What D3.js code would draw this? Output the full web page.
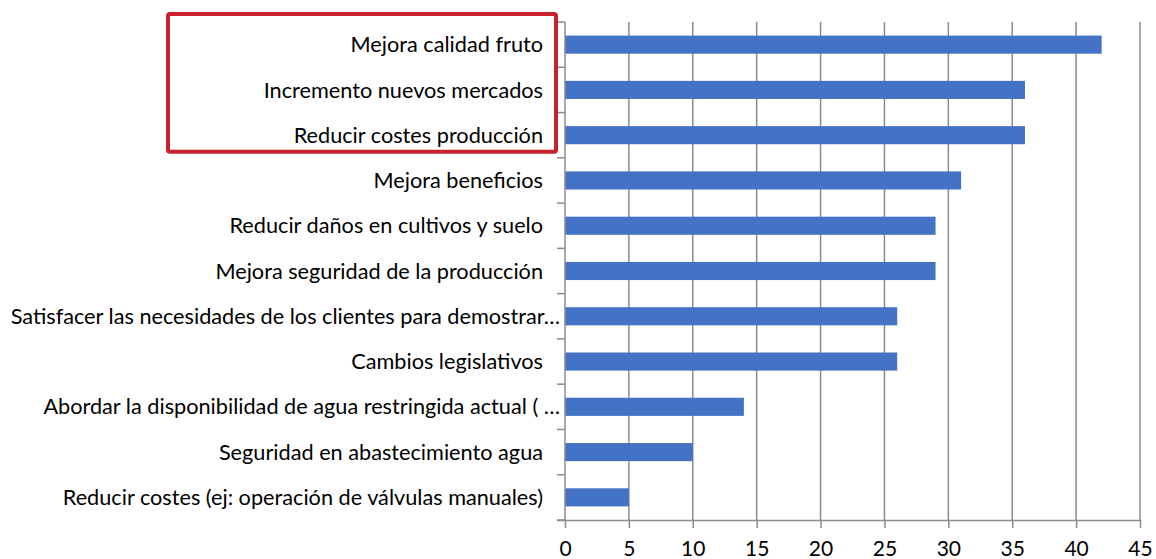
<!DOCTYPE html>
<html>
<head>
<meta charset="utf-8">
<script src="https://cdn.jsdelivr.net/npm/d3@7"></script>
<style>
  body { margin: 0; background: #fff; }
  svg { display: block; font-family: Lato, "Open Sans", sans-serif; }
</style>
</head>
<body>
<svg id="chart" width="1156" height="559"></svg>
<script>
// categorías (de arriba abajo)
const categories = [
    "Mejora calidad fruto",
    "Incremento nuevos mercados",
    "Reducir costes producción",
    "Mejora beneficios",
    "Reducir daños en cultivos y suelo",
    "Mejora seguridad de la producción",
    "Satisfacer las necesidades de los clientes para demostrar…",
    "Cambios legislativos",
    "Abordar la disponibilidad de agua restringida actual ( …",
    "Seguridad en abastecimiento agua",
    "Reducir costes (ej: operación de válvulas manuales)"
];
const values = [42, 36, 36, 31, 29, 29, 26, 26, 14, 10, 5];
const xTicks = [0, 5, 10, 15, 20, 25, 30, 35, 40, 45];
// etiquetas que el original corta con "…"
const truncated = [6, 8];
// filas resaltadas con el recuadro rojo
const highlighted = [0, 1, 2];

const svg = d3.select("#chart");
const margin = {top: 22, right: 16, bottom: 39, left: 565};
const height = 559 - margin.top - margin.bottom;

const g = svg.append("g").attr("transform", `translate(${margin.left},${margin.top})`);

const x = d3.scaleLinear().domain([0, 45]).range([0, 575]);
const y = d3.scaleBand().domain(categories).range([0, height]).paddingInner(0.6).paddingOuter(0.3);
const yRows = d3.scaleBand().domain(categories).range([0, height]);

// líneas de cuadrícula verticales
g.selectAll(".grid")
    .data(xTicks.filter(d => d > 0))
    .enter().append("line")
    .attr("class", "grid")
    .attr("x1", d => x(d)).attr("x2", d => x(d))
    .attr("y1", 0).attr("y2", height)
    .attr("stroke", "#8c8c8c")
    .attr("stroke-width", 1.5);

// barras
g.selectAll(".bar")
    .data(values)
    .enter().append("rect")
    .attr("class", "bar")
    .attr("fill", "#4472c4")
    .attr("x", x(0))
    .attr("y", (d, i) => y(categories[i]))
    .attr("width", d => x(d) - x(0))
    .attr("height", y.bandwidth());

// eje x
const axisX = d3.axisBottom(x).tickValues(xTicks).tickSize(8).tickPadding(13);
const axisXG = g.append("g").attr("transform", `translate(0,${height})`).call(axisX);
axisXG.select(".domain").attr("stroke", "#8c8c8c").attr("stroke-width", 1.5)
    .attr("d", `M-8,0.5H${x(45)}`);
axisXG.selectAll(".tick line").attr("stroke", "#8c8c8c").attr("stroke-width", 1.5);
axisXG.selectAll(".tick text").attr("fill", "#000").style("font-size", "21px")
    .style("font-family", "Lato, sans-serif");

// eje y (línea + marcas en los límites de fila)
const rowEdges = categories.map(c => yRows(c)).concat([height]);
g.append("line")
    .attr("x1", 0).attr("x2", 0).attr("y1", 0).attr("y2", height)
    .attr("stroke", "#8c8c8c").attr("stroke-width", 1.5);
g.selectAll(".ytick")
    .data(rowEdges)
    .enter().append("line")
    .attr("class", "ytick")
    .attr("x1", -8).attr("x2", 0)
    .attr("y1", d => d).attr("y2", d => d)
    .attr("stroke", "#8c8c8c").attr("stroke-width", 1.5);

// etiquetas de categoría
g.selectAll(".label")
    .data(categories)
    .enter().append("text")
    .attr("class", "label")
    .attr("x", (d, i) => truncated.includes(i) ? -5 : -22)
    .attr("y", d => yRows(d) + yRows.bandwidth() / 2)
    .attr("dy", "0.35em")
    .attr("text-anchor", "end")
    .style("font-size", "21.7px")
    .attr("fill", "#000")
    .text(d => d);

// recuadro rojo
const hTop = yRows(categories[highlighted[0]]);
const hBottom = yRows(categories[highlighted[highlighted.length - 1]]) + yRows.bandwidth();
svg.append("rect")
    .attr("x", 168).attr("y", margin.top + hTop - 8)
    .attr("width", 388).attr("height", hBottom - hTop + 2)
    .attr("rx", 2)
    .attr("fill", "none")
    .attr("stroke", "#c8202c")
    .attr("stroke-width", 4);
</script>
</body>
</html>
